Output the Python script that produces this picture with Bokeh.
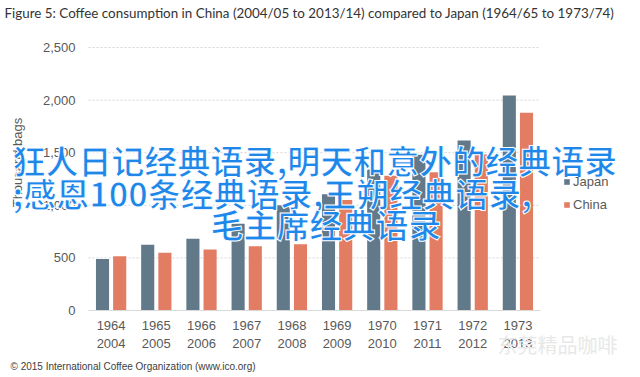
from bokeh.plotting import figure
from bokeh.models import (ColumnDataSource, FactorRange, Range1d, FixedTicker,
                          NumeralTickFormatter, Label, Legend, LegendItem)
from bokeh.transform import dodge
from bokeh.embed import file_html
from bokeh.resources import INLINE
import math

# ---- data ----
years_japan = ["1964", "1965", "1966", "1967", "1968", "1969", "1970", "1971", "1972", "1973"]
years_china = ["2004", "2005", "2006", "2007", "2008", "2009", "2010", "2011", "2012", "2013"]
japan = [490, 625, 681, 824, 1000, 1105, 1340, 1480, 1616, 2044]
china = [515, 548, 580, 611, 630, 1050, 1280, 1315, 1483, 1879]
y_ticks = [0, 500, 1000, 1500, 2000, 2500]
series_names = ["Japan", "China"]

title_text = "Figure 5: Coffee consumption in China (2004/05 to 2013/14) compared to Japan (1964/65 to 1973/74)"
footer_text = "\u00a9 2015 International Coffee Organization (www.ico.org)"
axis_title = "Thousand bags"
overlay_lines = ["狂人日记经典语录,明天和意外的经典语录",
                 ";感恩100条经典语录,王朔经典语录,",
                 "毛主席经典语录"]
watermark_text = "东莞精品咖啡"

cats = [a + "\n" + b for a, b in zip(years_japan, years_china)]
src = ColumnDataSource(dict(cat=cats, japan=japan, china=china))
grid_src = ColumnDataSource(dict(y=y_ticks[1:],
                                 x0=[cats[0]] * (len(y_ticks) - 1),
                                 x1=[cats[-1]] * (len(y_ticks) - 1)))

# ---- layout constants (pixels in the 640x377 picture) ----
W, H = 640, 377
PLOT_L, PLOT_R = 88, 540      # where the category band sits
PLOT_T, PLOT_B = 47, 310      # where 2500 and 0 sit
FRAME_W = 628
group_px = (PLOT_R - PLOT_L) / len(cats)
pad_units = PLOT_L / group_px
px_per_val = (PLOT_B - PLOT_T) / y_ticks[-1]
y_lo = -(H - PLOT_B) / px_per_val
y_hi = y_ticks[-1] + PLOT_T / px_per_val

JAPAN_C = "#62798a"
CHINA_C = "#e27d63"
GRID_C = "#d4d4d4"
TEXT_C = "#595959"
SANS = "Liberation Sans"

p = figure(width=W, height=H, output_backend="svg", toolbar_location=None,
           x_range=FactorRange(*cats, range_padding=pad_units, range_padding_units="absolute"),
           y_range=Range1d(y_lo, y_hi),
           min_border_left=0, min_border_right=W - FRAME_W, min_border_top=0, min_border_bottom=0)
p.title.visible = False
p.outline_line_color = None
p.background_fill_color = "white"
p.border_fill_color = "white"
p.xgrid.grid_line_color = None
p.ygrid.grid_line_color = None

# dotted gridlines across the category band
p.segment(x0=dodge("x0", -0.5, range=p.x_range), x1=dodge("x1", 0.5, range=p.x_range),
          y0="y", y1="y", source=grid_src, line_color=GRID_C, line_dash="2 2", line_width=1)

rj = p.vbar(x=dodge("cat", -0.19, range=p.x_range), top="japan", width=0.29, source=src,
            fill_color=JAPAN_C, line_color=None)
rc = p.vbar(x=dodge("cat", 0.19, range=p.x_range), top="china", width=0.29, source=src,
            fill_color=CHINA_C, line_color=None)

yax = p.yaxis[0]
yax.fixed_location = 0
yax.ticker = FixedTicker(ticks=y_ticks)
yax.formatter = NumeralTickFormatter(format="0,0")
yax.axis_line_color = None
yax.major_tick_line_color = None
yax.minor_tick_line_color = None
yax.major_tick_out = 0
yax.major_label_text_font = SANS
yax.major_label_text_font_size = "13px"
yax.major_label_text_color = TEXT_C
yax.major_label_standoff = 13

xax = p.xaxis[0]
xax.fixed_location = 0
xax.bounds = (0, len(cats))
xax.axis_line_color = "#d9d9d9"
xax.axis_line_width = 1
xax.major_tick_line_color = None
xax.minor_tick_line_color = None
xax.major_tick_out = 0
xax.major_label_text_font = SANS
xax.major_label_text_font_size = "13px"
xax.major_label_text_color = TEXT_C
xax.major_label_standoff = 7

legend = Legend(items=[LegendItem(label=series_names[0], renderers=[rj]),
                       LegendItem(label=series_names[1], renderers=[rc])],
                location=(563, H - 212), orientation="vertical",
                padding=0, margin=0, spacing=8,
                glyph_width=7, glyph_height=7, label_height=14, label_standoff=3,
                label_text_font=SANS, label_text_font_size="13px", label_text_color=TEXT_C,
                border_line_color=None, background_fill_alpha=0)
p.add_layout(legend, "center")

def sy(py):
    return H - py

def add_text(txt, px, py, **kw):
    p.add_layout(Label(x=px, y=sy(py), x_units="screen", y_units="screen", text=txt,
                       text_baseline="middle", **kw))

add_text(title_text, 4, 12, text_font="Lato", text_font_size="13.4px",
         text_color="#333333", text_align="left")
add_text(axis_title, 17, 162, angle=math.pi / 2, text_font=SANS, text_font_size="13px",
         text_color=TEXT_C, text_align="center")
add_text(footer_text, 10, 366, text_font=SANS, text_font_size="10px", text_color="#404040",
         text_align="left")
add_text(watermark_text, 497, 344, text_font="Noto Sans CJK SC", text_font_size="20px",
         text_color="#e8e8e8", text_align="left")

line_pos = [(12, 159), (12, 192), (210, 223)]
for t, (px, py) in zip(overlay_lines, line_pos):
    add_text(t, px, py, text_font="Noto Sans CJK SC", text_font_style="bold",
             text_font_size="33px", text_color="#1f87ea", text_outline_color="white",
             text_align="left")

open("out.html", "w").write(file_html(p, INLINE))
